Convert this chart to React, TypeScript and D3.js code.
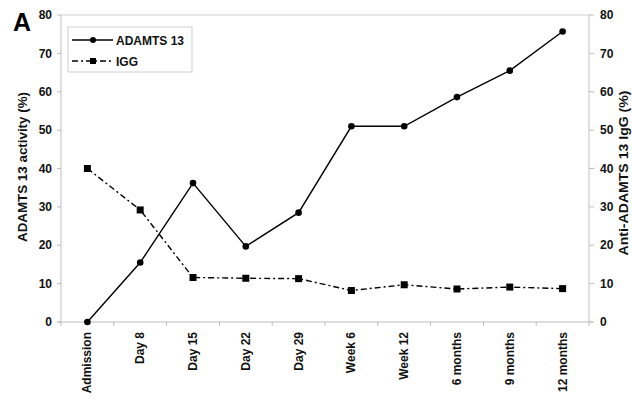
import React from "react";
import * as d3 from "d3";

// Time points and measured values
const categories = [
  "Admission",
  "Day 8",
  "Day 15",
  "Day 22",
  "Day 29",
  "Week 6",
  "Week 12",
  "6 months",
  "9 months",
  "12 months",
];
const adamtsActivity = [0, 15.5, 36.2, 19.7, 28.5, 51, 51, 58.6, 65.5, 75.7];
const iggLevel = [40, 29.2, 11.6, 11.4, 11.3, 8.2, 9.7, 8.6, 9.1, 8.7];
const yTicks = [0, 10, 20, 30, 40, 50, 60, 70, 80];

const W = 632;
const H = 400;
const left = 61;
const right = 589;
const top = 15;
const bottom = 322;

const FONT = "'Liberation Sans', Arial, sans-serif";
const AXIS_GRAY = "#bdbdbd";

export default function App() {
  const x = d3.scaleBand<string>().domain(categories).range([left, right]);
  const yL = d3.scaleLinear().domain([0, 80]).range([bottom, top]);
  const yR = d3.scaleLinear().domain([0, 80]).range([bottom, top]);
  const cx = (c: string) => (x(c) as number) + x.bandwidth() / 2;

  const lineL = d3
    .line<number>()
    .x((_, i) => cx(categories[i]))
    .y((d) => yL(d));
  const lineR = d3
    .line<number>()
    .x((_, i) => cx(categories[i]))
    .y((d) => yR(d));

  const boundaries = d3.range(categories.length + 1).map((i) => left + i * x.bandwidth());
  const iggDash = "6,3,2,3";

  return (
    <svg
      width={W}
      height={H}
      style={{ position: "fixed", left: 0, top: 0, background: "#fff" }}
      fontFamily={FONT}
    >
      <rect width={W} height={H} fill="#fff" />
      {/* panel letter */}
      <text x={13} y={31} fontSize={25} fontWeight="bold" fill="#000">
        A
      </text>

      {/* frame: top edge, left and right axes, baseline */}
      <line x1={left} x2={right} y1={top} y2={top} stroke="#e0e0e0" strokeWidth={1.5} />
      <line x1={left} x2={left} y1={top} y2={bottom} stroke={AXIS_GRAY} />
      <line x1={right} x2={right} y1={top} y2={bottom} stroke={AXIS_GRAY} />
      <line x1={left - 4} x2={right + 4} y1={bottom} y2={bottom} stroke={AXIS_GRAY} />

      {/* y ticks and labels, both sides */}
      {yTicks.map((t) => (
        <g key={t}>
          <line x1={left - 4} x2={left} y1={yL(t)} y2={yL(t)} stroke={AXIS_GRAY} />
          <text
            x={52}
            y={yL(t)}
            dy="0.35em"
            textAnchor="end"
            fontSize={12}
            fontWeight="bold"
            fill="#111"
          >
            {t}
          </text>
          <line x1={right} x2={right + 5} y1={yR(t)} y2={yR(t)} stroke={AXIS_GRAY} />
          <text
            x={600}
            y={yR(t)}
            dy="0.35em"
            textAnchor="start"
            fontSize={12}
            fontWeight="bold"
            fill="#111"
          >
            {t}
          </text>
        </g>
      ))}

      {/* x ticks between categories */}
      {boundaries.map((b, i) => (
        <line key={i} x1={b} x2={b} y1={bottom} y2={bottom + 4} stroke={AXIS_GRAY} />
      ))}
      {categories.map((c) => (
        <text
          key={c}
          transform={`translate(${cx(c) + 4},${bottom + 10}) rotate(-90)`}
          textAnchor="end"
          fontSize={12}
          fontWeight="bold"
          fill="#111"
        >
          {c}
        </text>
      ))}

      {/* axis titles */}
      <text
        transform={`translate(27,167) rotate(-90)`}
        textAnchor="middle"
        fontSize={12}
        fontWeight="bold"
        textLength={150}
        lengthAdjust="spacingAndGlyphs"
        fill="#111"
      >
        ADAMTS 13 activity (%)
      </text>
      <text
        transform={`translate(628,173) rotate(-90)`}
        textAnchor="middle"
        fontSize={12}
        fontWeight="bold"
        textLength={165}
        lengthAdjust="spacingAndGlyphs"
        fill="#111"
      >
        Anti-ADAMTS 13 IgG (%)
      </text>

      {/* IgG series */}
      <path
        d={lineR(iggLevel) || ""}
        fill="none"
        stroke="#000"
        strokeWidth={1.4}
        strokeDasharray={iggDash}
      />
      {iggLevel.map((v, i) => (
        <rect
          key={i}
          x={cx(categories[i]) - 3.5}
          y={yR(v) - 3.5}
          width={7}
          height={7}
          fill="#000"
        />
      ))}

      {/* ADAMTS 13 activity series */}
      <path d={lineL(adamtsActivity) || ""} fill="none" stroke="#000" strokeWidth={1.4} />
      {adamtsActivity.map((v, i) => (
        <circle key={i} cx={cx(categories[i])} cy={yL(v)} r={3.3} fill="#000" />
      ))}

      {/* legend */}
      <rect x={68} y={27} width={124} height={45} fill="#fff" stroke="#cfcfcf" />
      <line x1={72} x2={113} y1={40} y2={40} stroke="#000" strokeWidth={1.4} />
      <circle cx={93} cy={40} r={3} fill="#000" />
      <text x={116} y={44.5} fontSize={12} fontWeight="bold" fill="#111">
        ADAMTS 13
      </text>
      <line
        x1={72}
        x2={113}
        y1={61}
        y2={61}
        stroke="#000"
        strokeWidth={1.4}
        strokeDasharray={iggDash}
      />
      <rect x={90} y={58} width={6} height={6} fill="#000" />
      <text x={116} y={65.5} fontSize={12} fontWeight="bold" fill="#111">
        IGG
      </text>
    </svg>
  );
}
